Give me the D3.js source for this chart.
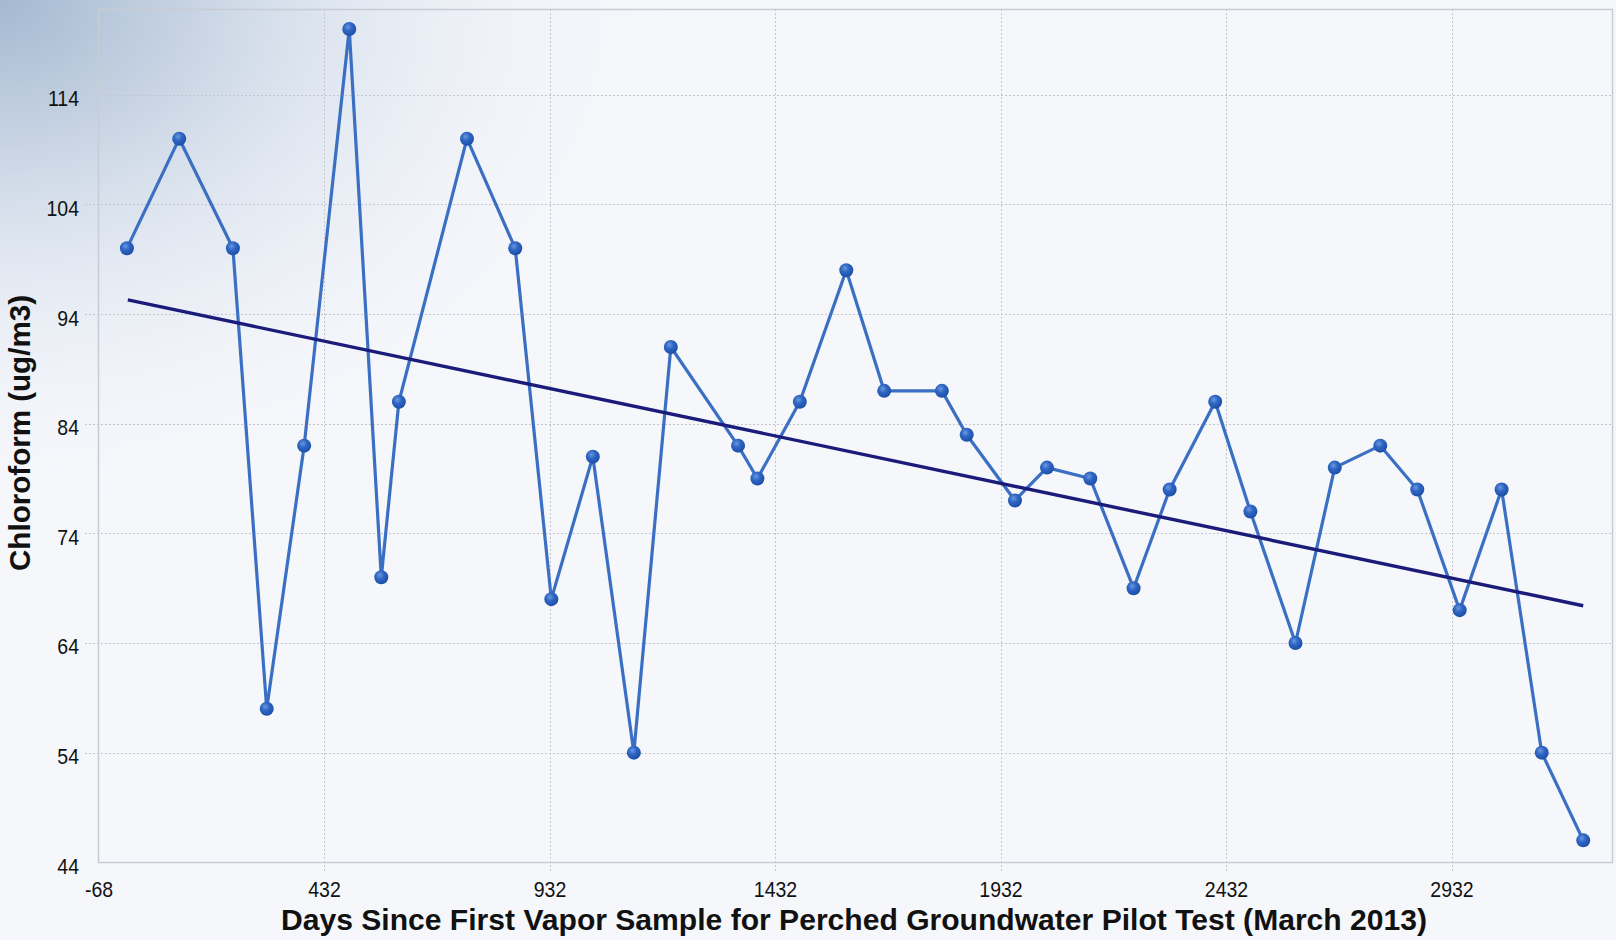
<!DOCTYPE html>
<html><head><meta charset="utf-8">
<script src="https://cdn.jsdelivr.net/npm/d3@7"></script>
<style>
html,body{margin:0;padding:0;background:#f5f7fb;}
svg{display:block;}
</style></head><body>
<svg id="chart" width="1616" height="940"></svg>
<script>
// ---- data ----
const days = [-5, 111, 230, 305, 388, 488, 559, 598, 749, 856, 936, 1028, 1119, 1201, 1350, 1393, 1487, 1590, 1674, 1802, 1857, 1964, 2035, 2131, 2227, 2307, 2408, 2486, 2586, 2673, 2774, 2856, 2950, 3043, 3132, 3224];
const chloroform = [100, 110, 100, 58, 82, 120, 70, 86, 110, 100, 68, 81, 54, 91, 82, 79, 86, 98, 87, 87, 83, 77, 80, 79, 69, 78, 86, 76, 64, 80, 82, 78, 67, 78, 54, 46];
const trendDays = [-3, 3224];
const trendValues = [95.3, 67.4];
const xTickValues = [-68, 432, 932, 1432, 1932, 2432, 2932];
const yTickValues = [44, 54, 64, 74, 84, 94, 104, 114];
const xTitle = "Days Since First Vapor Sample for Perched Groundwater Pilot Test (March 2013)";
const yTitle = "Chloroform (ug/m3)";

// ---- layout ----
const W = 1616, H = 940;
const plot = {left: 98, right: 1613, top: 9, bottom: 862};
const x = d3.scaleLinear().domain([-68, 3290]).range([plot.left + 0.5, plot.right]);
const y = d3.scaleLinear().domain([44, 121.8]).range([862.3, 9.3]);

const svg = d3.select("#chart");
const defs = svg.append("defs");

const bg = defs.append("radialGradient").attr("id", "bgGrad")
  .attr("gradientUnits", "userSpaceOnUse").attr("cx", 0).attr("cy", 0).attr("r", 700)
  .attr("gradientTransform", "scale(1,0.75)");
[[0, "#a4b8d0", 1], [0.25, "#bfcddf", 0.9], [0.55, "#dbe3ee", 0.6], [0.8, "#eceff5", 0.3], [1, "#f5f7fb", 0]].forEach(s =>
  bg.append("stop").attr("offset", s[0]).attr("stop-color", s[1]).attr("stop-opacity", s[2]));

const mg = defs.append("radialGradient").attr("id", "markGrad")
  .attr("cx", "40%").attr("cy", "35%").attr("r", "65%");
[[0, "#6a98de"], [0.45, "#2f66c4"], [1, "#1c4ea6"]].forEach(s =>
  mg.append("stop").attr("offset", s[0]).attr("stop-color", s[1]));

svg.append("rect").attr("width", W).attr("height", H).attr("fill", "#f5f7fb");
svg.append("rect").attr("width", W).attr("height", H).attr("fill", "url(#bgGrad)");

// grid
const gridY = svg.append("g").attr("transform", `translate(85,0)`)
  .call(d3.axisRight(y).tickValues(yTickValues.filter(v => v !== 44))
    .tickSize(plot.right - 85).tickFormat(""));
const gridX = svg.append("g").attr("transform", `translate(0,${plot.bottom + 9})`)
  .call(d3.axisTop(x).tickValues(xTickValues.filter(v => v !== -68))
    .tickSize(plot.bottom + 9 - plot.top).tickFormat(""));
[gridX, gridY].forEach(g => {
  g.select(".domain").remove();
  g.selectAll("line").attr("stroke", "#c3c6cc").attr("stroke-width", 1)
    .attr("stroke-dasharray", "2,2").attr("shape-rendering", "crispEdges");
});

// plot border
svg.append("rect").attr("x", plot.left + 0.5).attr("y", plot.top + 0.5)
  .attr("width", plot.right - plot.left - 1).attr("height", plot.bottom - plot.top)
  .attr("fill", "none").attr("stroke", "#c8ccd4").attr("stroke-width", 1.5);

// tick labels
const fs = 19.5, sy = 1.14;
const fmt = d => String(d);
const yAx = svg.append("g").attr("transform", `translate(${plot.left},0)`)
  .call(d3.axisLeft(y).tickValues(yTickValues).tickSize(0).tickFormat(fmt));
const xAx = svg.append("g").attr("transform", `translate(0,${plot.bottom})`)
  .call(d3.axisBottom(x).tickValues(xTickValues).tickSize(0).tickFormat(fmt));
[yAx, xAx].forEach(g => g.select(".domain").remove());
yAx.selectAll("text").attr("font-family", "'Liberation Sans', Arial, sans-serif")
  .attr("font-size", fs).attr("fill", "#111").attr("text-anchor", "end")
  .attr("x", -19).attr("dy", null).attr("y", 3 / sy + 0.358 * fs)
  .attr("transform", `scale(1,${sy})`);
xAx.selectAll("text").attr("font-family", "'Liberation Sans', Arial, sans-serif")
  .attr("font-size", fs).attr("fill", "#111").attr("text-anchor", "middle")
  .attr("dy", null).attr("y", 27 / sy + 0.358 * fs)
  .attr("transform", `scale(1,${sy})`);

// series
const pts = days.map((d, i) => ({day: d, val: chloroform[i]}));
svg.append("path").datum(pts)
  .attr("d", d3.line().x(d => x(d.day)).y(d => y(d.val)))
  .attr("fill", "none").attr("stroke", "#3a6fc4").attr("stroke-width", 3.2)
  .attr("stroke-linejoin", "round");
svg.append("g").selectAll("circle").data(pts).join("circle")
  .attr("cx", d => x(d.day)).attr("cy", d => y(d.val)).attr("r", 7)
  .attr("fill", "url(#markGrad)");

// trend line
const trend = trendDays.map((d, i) => ({day: d, val: trendValues[i]}));
svg.append("path").datum(trend)
  .attr("d", d3.line().x(d => x(d.day)).y(d => y(d.val)))
  .attr("fill", "none").attr("stroke", "#1b1b7a").attr("stroke-width", 3.4);

// titles
svg.append("text").attr("x", 854).attr("y", 930).attr("text-anchor", "middle")
  .attr("font-family", "'Liberation Sans', Arial, sans-serif").attr("font-weight", "bold")
  .attr("font-size", 29.5).attr("fill", "#111")
  .attr("textLength", 1146).attr("lengthAdjust", "spacingAndGlyphs").text(xTitle);
svg.append("text").attr("transform", "translate(30,433) rotate(-90)").attr("text-anchor", "middle")
  .attr("font-family", "'Liberation Sans', Arial, sans-serif").attr("font-weight", "bold")
  .attr("font-size", 29.5).attr("fill", "#111")
  .attr("textLength", 276).attr("lengthAdjust", "spacingAndGlyphs").text(yTitle);
</script>
</body></html>
